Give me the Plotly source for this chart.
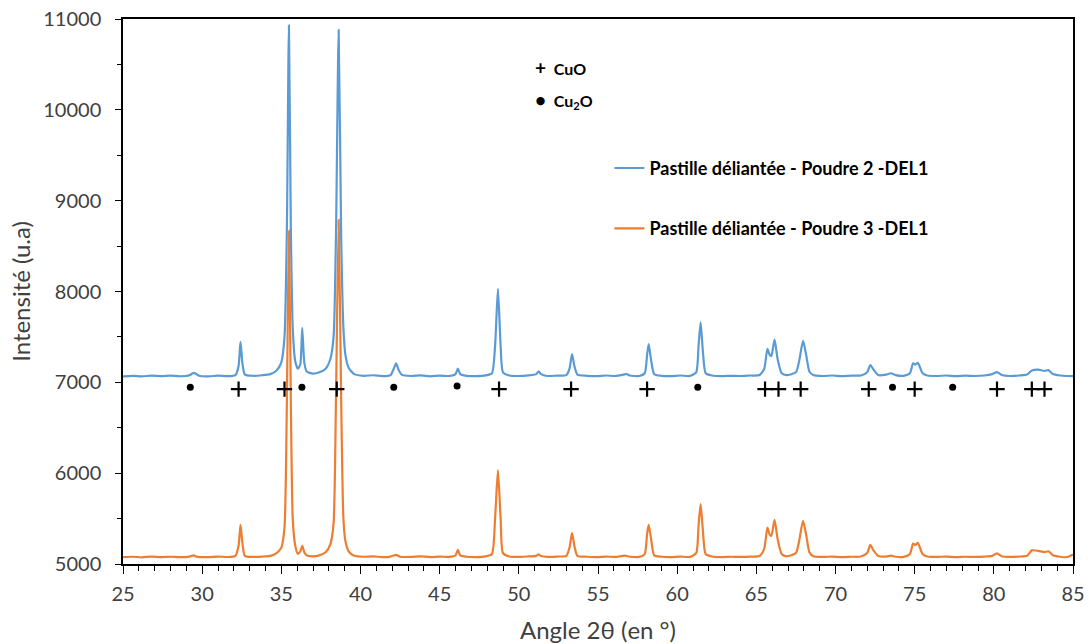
import plotly.graph_objects as go

# ---- data ----
blue_pts = [
    (25.0, 7065), (25.6, 7072), (26.2, 7066), (26.8, 7074), (27.4, 7068), (28.0, 7073),
    (28.6, 7067), (29.2, 7078), (29.45, 7105), (29.6, 7095), (29.8, 7072), (30.4, 7066),
    (31.0, 7074), (31.6, 7068), (32.1, 7080), (32.3, 7180), (32.42, 7445), (32.55, 7200),
    (32.7, 7085), (33.2, 7072), (33.8, 7078), (34.3, 7090), (34.7, 7130), (35.0, 7220),
    (35.2, 7500), (35.35, 8700), (35.48, 10930), (35.6, 8700), (35.72, 7600), (35.88, 7230),
    (36.05, 7150), (36.2, 7200), (36.32, 7600), (36.45, 7220), (36.6, 7120), (37.0, 7095),
    (37.4, 7110), (37.8, 7150), (38.1, 7260), (38.3, 7500), (38.45, 8600), (38.62, 10880),
    (38.78, 8600), (38.92, 7600), (39.05, 7300), (39.25, 7160), (39.6, 7090), (40.2, 7072),
    (40.8, 7078), (41.4, 7068), (41.9, 7080), (42.1, 7150), (42.25, 7210), (42.4, 7140),
    (42.6, 7085), (43.2, 7070), (43.8, 7076), (44.4, 7066), (45.0, 7074), (45.6, 7070),
    (46.0, 7090), (46.15, 7150), (46.3, 7090), (46.7, 7072), (47.3, 7068), (47.9, 7076),
    (48.3, 7100), (48.5, 7400), (48.68, 8030), (48.85, 7400), (49.0, 7110), (49.4, 7075),
    (50.0, 7070), (50.6, 7076), (51.1, 7090), (51.25, 7120), (51.4, 7090), (51.8, 7070),
    (52.4, 7074), (53.0, 7080), (53.2, 7150), (53.36, 7310), (53.52, 7170), (53.7, 7085),
    (54.3, 7072), (54.9, 7068), (55.5, 7075), (56.1, 7070), (56.6, 7085), (56.8, 7092),
    (57.0, 7075), (57.6, 7070), (57.95, 7100), (58.1, 7300), (58.2, 7420), (58.35, 7250),
    (58.55, 7090), (59.0, 7072), (59.6, 7068), (60.2, 7075), (60.8, 7070), (61.2, 7110),
    (61.35, 7400), (61.48, 7660), (61.62, 7350), (61.8, 7100), (62.2, 7075), (62.8, 7068),
    (63.4, 7072), (64.0, 7070), (64.6, 7075), (65.2, 7080), (65.5, 7150), (65.7, 7370),
    (65.85, 7300), (65.95, 7290), (66.15, 7470), (66.35, 7250), (66.6, 7100), (66.9, 7080),
    (67.5, 7110), (67.7, 7230), (67.95, 7456), (68.15, 7300), (68.35, 7120), (68.6, 7080),
    (69.2, 7070), (69.8, 7075), (70.4, 7068), (71.0, 7074), (71.6, 7075), (72.0, 7110),
    (72.2, 7190), (72.4, 7140), (72.7, 7080), (73.2, 7085), (73.5, 7100), (73.8, 7080),
    (74.3, 7072), (74.7, 7100), (74.9, 7210), (75.05, 7195), (75.2, 7215), (75.5, 7100),
    (75.8, 7075), (76.4, 7070), (77.0, 7075), (77.6, 7068), (78.2, 7073), (78.8, 7070),
    (79.4, 7075), (79.9, 7090), (80.2, 7112), (80.5, 7080), (81.0, 7070), (81.6, 7075),
    (82.1, 7085), (82.4, 7130), (82.8, 7140), (83.2, 7125), (83.45, 7135), (83.7, 7095),
    (84.2, 7075), (84.6, 7070), (85.0, 7068),
]
orange_pts = [
    (25.0, 5075), (25.6, 5080), (26.2, 5074), (26.8, 5082), (27.4, 5076), (28.0, 5080),
    (28.6, 5075), (29.2, 5082), (29.45, 5095), (29.7, 5078), (30.4, 5076), (31.0, 5082),
    (31.6, 5077), (32.1, 5090), (32.3, 5200), (32.42, 5430), (32.55, 5220), (32.7, 5090),
    (33.2, 5078), (33.8, 5082), (34.3, 5090), (34.7, 5120), (35.0, 5180), (35.2, 5400),
    (35.35, 6800), (35.48, 8670), (35.6, 6800), (35.72, 5500), (35.88, 5200), (36.05, 5110),
    (36.2, 5140), (36.32, 5200), (36.45, 5130), (36.6, 5095), (37.0, 5085), (37.4, 5095),
    (37.8, 5130), (38.1, 5220), (38.3, 5450), (38.45, 6800), (38.62, 8790), (38.78, 6800),
    (38.92, 5500), (39.05, 5250), (39.25, 5140), (39.6, 5090), (40.2, 5080), (40.8, 5084),
    (41.4, 5076), (41.9, 5082), (42.25, 5100), (42.5, 5080), (43.2, 5078), (43.8, 5085),
    (44.4, 5076), (45.0, 5082), (45.6, 5078), (46.0, 5095), (46.15, 5155), (46.3, 5095),
    (46.7, 5080), (47.3, 5076), (47.9, 5084), (48.3, 5110), (48.5, 5500), (48.68, 6035),
    (48.85, 5500), (49.0, 5120), (49.4, 5082), (50.0, 5078), (50.6, 5084), (51.1, 5090),
    (51.25, 5105), (51.4, 5088), (51.8, 5078), (52.4, 5082), (53.0, 5090), (53.2, 5180),
    (53.36, 5340), (53.52, 5190), (53.7, 5090), (54.3, 5080), (54.9, 5076), (55.5, 5082),
    (56.1, 5078), (56.7, 5092), (57.0, 5080), (57.6, 5078), (57.95, 5110), (58.1, 5330),
    (58.2, 5430), (58.35, 5280), (58.55, 5095), (59.0, 5080), (59.6, 5076), (60.2, 5082),
    (60.8, 5078), (61.2, 5120), (61.35, 5420), (61.48, 5660), (61.62, 5380), (61.8, 5110),
    (62.2, 5082), (62.8, 5076), (63.4, 5080), (64.0, 5078), (64.6, 5082), (65.2, 5088),
    (65.5, 5170), (65.7, 5400), (65.85, 5320), (65.95, 5310), (66.15, 5485), (66.35, 5270),
    (66.6, 5110), (66.9, 5085), (67.5, 5120), (67.7, 5250), (67.95, 5475), (68.15, 5320),
    (68.35, 5130), (68.6, 5085), (69.2, 5078), (69.8, 5082), (70.4, 5076), (71.0, 5080),
    (71.6, 5082), (72.0, 5120), (72.2, 5210), (72.4, 5150), (72.7, 5088), (73.2, 5082),
    (73.5, 5092), (73.8, 5080), (74.3, 5078), (74.7, 5110), (74.9, 5225), (75.05, 5210),
    (75.2, 5232), (75.5, 5110), (75.8, 5082), (76.4, 5078), (77.0, 5082), (77.6, 5076),
    (78.2, 5080), (78.8, 5078), (79.4, 5082), (79.9, 5090), (80.2, 5118), (80.5, 5085),
    (81.0, 5078), (81.6, 5082), (82.1, 5090), (82.4, 5150), (82.8, 5145), (83.2, 5130),
    (83.45, 5140), (83.7, 5100), (84.2, 5080), (84.6, 5075), (85.0, 5105),
]
cuo_x = [32.3, 35.2, 38.5, 48.75, 53.3, 58.1, 65.55, 66.4, 67.8, 72.1, 75.0, 80.2, 82.4, 83.2]
cuo_y = [6925] * len(cuo_x)
cu2o_x = [29.25, 36.3, 42.1, 46.1, 61.3, 73.6, 77.4]
cu2o_y = [6945, 6945, 6945, 6960, 6945, 6945, 6945]
y_ticks = [5000, 6000, 7000, 8000, 9000, 10000, 11000]
x_ticks = [25, 30, 35, 40, 45, 50, 55, 60, 65, 70, 75, 80, 85]

name_blue = "Pastille déliantée - Poudre 2 -DEL1"
name_orange = "Pastille déliantée - Poudre 3 -DEL1"

BLUE = "#5B9BD5"
ORANGE = "#ED7D31"
FONT = "Lato"
GREY = "#404040"

fig = go.Figure()
fig.add_trace(go.Scatter(x=[p[0] for p in blue_pts], y=[p[1] for p in blue_pts],
                         mode="lines", name=name_blue, legendgroup="a",
                         line=dict(color=BLUE, width=2.2, shape="spline", smoothing=0.6)))
fig.add_trace(go.Scatter(x=[p[0] for p in orange_pts], y=[p[1] for p in orange_pts],
                         mode="lines", name=name_orange, legendgroup="b",
                         line=dict(color=ORANGE, width=2.2, shape="spline", smoothing=0.6)))
fig.add_trace(go.Scatter(x=cuo_x, y=cuo_y, mode="markers", showlegend=False,
                         marker=dict(symbol="cross-thin", size=11,
                                     line=dict(color="black", width=2.2))))
fig.add_trace(go.Scatter(x=cu2o_x, y=cu2o_y, mode="markers", showlegend=False,
                         marker=dict(symbol="circle", size=7, color="black")))

fig.add_annotation(x=50.9, y=10470, xref="x", yref="y", xanchor="left", yanchor="middle",
                   text="<b><span style='font-size:19px'>+</span>  CuO</b>", showarrow=False,
                   font=dict(family=FONT, size=16, color="black"))
fig.add_annotation(x=50.9, y=10105, xref="x", yref="y", xanchor="left", yanchor="middle",
                   text="<b><span style='font-size:19px'>•</span>  Cu<sub>2</sub>O</b>", showarrow=False,
                   font=dict(family=FONT, size=16, color="black"))

fig.update_layout(
    width=1089, height=644,
    margin=dict(l=123, r=16, t=19, b=80, autoexpand=False),
    paper_bgcolor="white", plot_bgcolor="white",
    font=dict(family=FONT, color=GREY),
    legend=dict(x=0.512, y=0.76, xanchor="left", yanchor="top",
                font=dict(family=FONT, size=18, color="black", weight="bold"),
                bgcolor="rgba(0,0,0,0)", tracegroupgap=34, itemwidth=30),
    showlegend=True,
)
fig.update_xaxes(range=[25, 85], tickvals=x_ticks, automargin=False,
                 showgrid=False, zeroline=False,
                 showline=True, linecolor="black", linewidth=1.5, mirror=True,
                 ticks="outside", ticklen=8, tickcolor="black", tickwidth=1.2,
                 minor=dict(dtick=1, ticks="outside", ticklen=5, tickcolor="black", tickwidth=1.2),
                 tickfont=dict(family=FONT, size=20, color=GREY),
                 ticklabelstandoff=3, ticklabeloverflow="allow",
                 title=dict(text="Angle 2θ (en °)", font=dict(family=FONT, size=24, color=GREY),
                            standoff=27))
fig.update_yaxes(range=[5000, 11000], tickvals=y_ticks, tickformat="d", automargin=False,
                 showgrid=False, zeroline=False,
                 showline=True, linecolor="black", linewidth=1.5, mirror=True,
                 ticks="outside", ticklen=6, tickcolor="black", tickwidth=1.2,
                 minor=dict(dtick=500, ticks="outside", ticklen=4, tickcolor="black", tickwidth=1.2),
                 tickfont=dict(family=FONT, size=20, color=GREY),
                 ticklabelstandoff=10, ticklabeloverflow="allow",
                 title=dict(text="Intensité (u.a)", font=dict(family=FONT, size=24, color=GREY),
                            standoff=6))

# remove the default page margin so the figure fills the window exactly
fig.write_html("out.html", config={"displayModeBar": False},
               post_script="document.body.style.margin='0';")
